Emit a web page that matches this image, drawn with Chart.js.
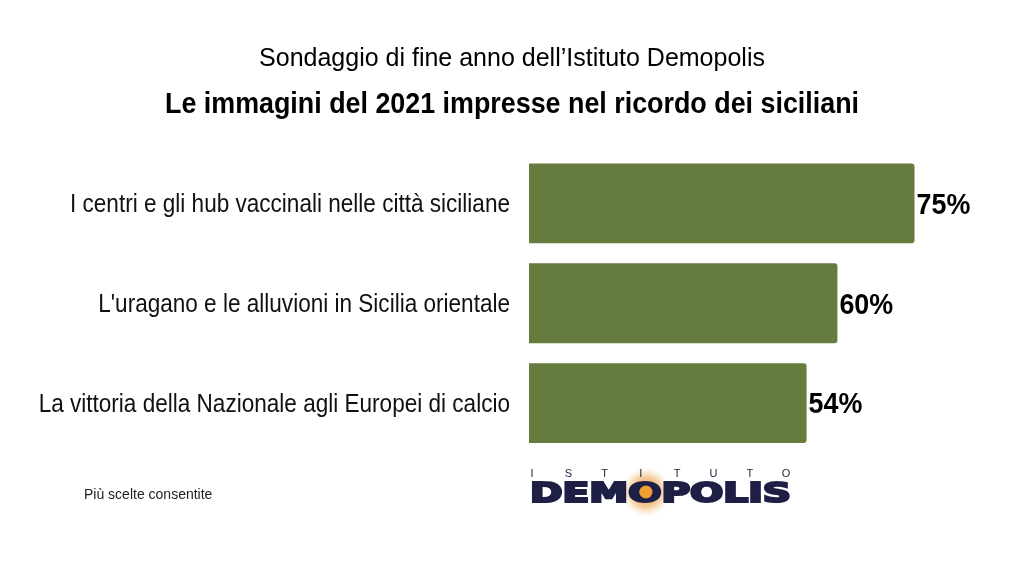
<!DOCTYPE html>
<html><head><meta charset="utf-8">
<script src="https://cdn.jsdelivr.net/npm/chart.js@4/dist/chart.umd.min.js"></script>
<style>html,body{margin:0;padding:0;background:#fff;}#wrap{width:1024px;height:576px;position:relative;}</style>
</head><body><div id="wrap"><canvas id="c" width="1024" height="576"></canvas></div>
<script>
const categories = [
  "I centri e gli hub vaccinali nelle città siciliane",
  "L'uragano e le alluvioni in Sicilia orientale",
  "La vittoria della Nazionale agli Europei di calcio"
];
const values = [75, 60, 54];
const valueLabels = ["75%", "60%", "54%"];
const supertitle = "Sondaggio di fine anno dell\u2019Istituto Demopolis";
const title = "Le immagini del 2021 impresse nel ricordo dei siciliani";
const footnote = "Più scelte consentite";
const logoTop = "ISTITUTO";
const logoMain = "DEMOPOLIS";

const SANS = "'Liberation Sans', Arial, sans-serif";
const LABEL_FONT = "25px " + SANS;
const BOLD_FONT = "bold 30px " + SANS;

// draw text horizontally condensed by factor sx
function drawScaled(ctx, text, x, y, sx, align, stroke) {
  const w = ctx.measureText(text).width * sx;
  let left = x;
  if (align === 'right') left = x - w;
  else if (align === 'center') left = x - w / 2;
  ctx.save();
  ctx.textAlign = 'left';
  ctx.translate(left, y);
  ctx.scale(sx, 1);
  if (stroke) ctx.strokeText(text, 0, 0);
  ctx.fillText(text, 0, 0);
  ctx.restore();
}

const textPlugin = {
  id: 'texts',
  afterDraw(chart) {
    const ctx = chart.ctx;
    ctx.save();
    ctx.fillStyle = '#000';
    ctx.textBaseline = 'alphabetic';
    // supertitle
    ctx.font = "25px " + SANS;
    drawScaled(ctx, supertitle, 512, 66, 1, 'center');
    // title (condensed bold)
    ctx.font = BOLD_FONT;
    const bsx = 694 / ctx.measureText(title).width;
    drawScaled(ctx, title, 512, 113, bsx, 'center');
    // category labels (condensed)
    const yScale = chart.scales.y;
    ctx.font = LABEL_FONT;
    ctx.fillStyle = '#111';
    ctx.textBaseline = 'middle';
    const lsx = 440 / ctx.measureText(categories[0]).width;
    categories.forEach((lab, i) => {
      drawScaled(ctx, lab, yScale.right - 19, yScale.getPixelForTick(i) + 2, lsx, 'right');
    });
    // value labels
    const meta = chart.getDatasetMeta(0);
    ctx.fillStyle = '#000';
    ctx.font = BOLD_FONT;
    meta.data.forEach((bar, i) => {
      drawScaled(ctx, valueLabels[i], bar.x + 2, bar.y + 2, bsx, 'left');
    });
    // footnote
    ctx.textBaseline = 'alphabetic';
    ctx.font = "14px " + SANS;
    ctx.fillStyle = '#222';
    drawScaled(ctx, footnote, 84, 499, 1, 'left');
    // logo
    const ox = 646, oy = 492;
    const g = ctx.createRadialGradient(ox, oy, 4, ox, oy, 25);
    g.addColorStop(0, 'rgba(235,150,60,0.9)');
    g.addColorStop(0.55, 'rgba(240,175,100,0.6)');
    g.addColorStop(1, 'rgba(250,225,190,0)');
    ctx.fillStyle = g;
    ctx.beginPath(); ctx.arc(ox, oy, 25, 0, Math.PI*2); ctx.fill();
    ctx.fillStyle = '#1d1f45';
    ctx.strokeStyle = '#1d1f45';
    ctx.lineWidth = 2.2;
    ctx.lineJoin = 'miter';
    ctx.font = "bold 26px 'DejaVu Sans', " + SANS;
    const w = ctx.measureText(logoMain).width;
    drawScaled(ctx, logoMain, 530, 502, 261 / w, 'left', true);
    ctx.fillStyle = '#f0a030';
    ctx.beginPath(); ctx.arc(ox, oy, 6.5, 0, Math.PI*2); ctx.fill();
    ctx.font = "11px " + SANS;
    ctx.fillStyle = '#1d1f45';
    ctx.textAlign = 'center';
    for (let i = 0; i < logoTop.length; i++) {
      ctx.fillText(logoTop[i], 532 + i * 36.3, 477);
    }
    ctx.restore();
  }
};

new Chart(document.getElementById('c'), {
  type: 'bar',
  data: {
    labels: categories,
    datasets: [{
      data: values,
      backgroundColor: '#667c3e',
      borderRadius: {topRight: 3, bottomRight: 3, topLeft: 0, bottomLeft: 0},
      borderSkipped: 'start',
      barPercentage: 0.8,
      categoryPercentage: 1.0
    }]
  },
  options: {
    indexAxis: 'y',
    responsive: false,
    animation: false,
    devicePixelRatio: 1,
    layout: { padding: { top: 153.5, bottom: 123, left: 0, right: 0 } },
    plugins: { legend: { display: false }, tooltip: { enabled: false } },
    scales: {
      x: { display: false, min: 0, max: 96.3 },
      y: {
        grid: { display: false, drawTicks: false },
        border: { display: false },
        ticks: { display: false },
        afterFit(scale) { scale.width = 529; }
      }
    }
  },
  plugins: [textPlugin]
});
</script></body></html>
